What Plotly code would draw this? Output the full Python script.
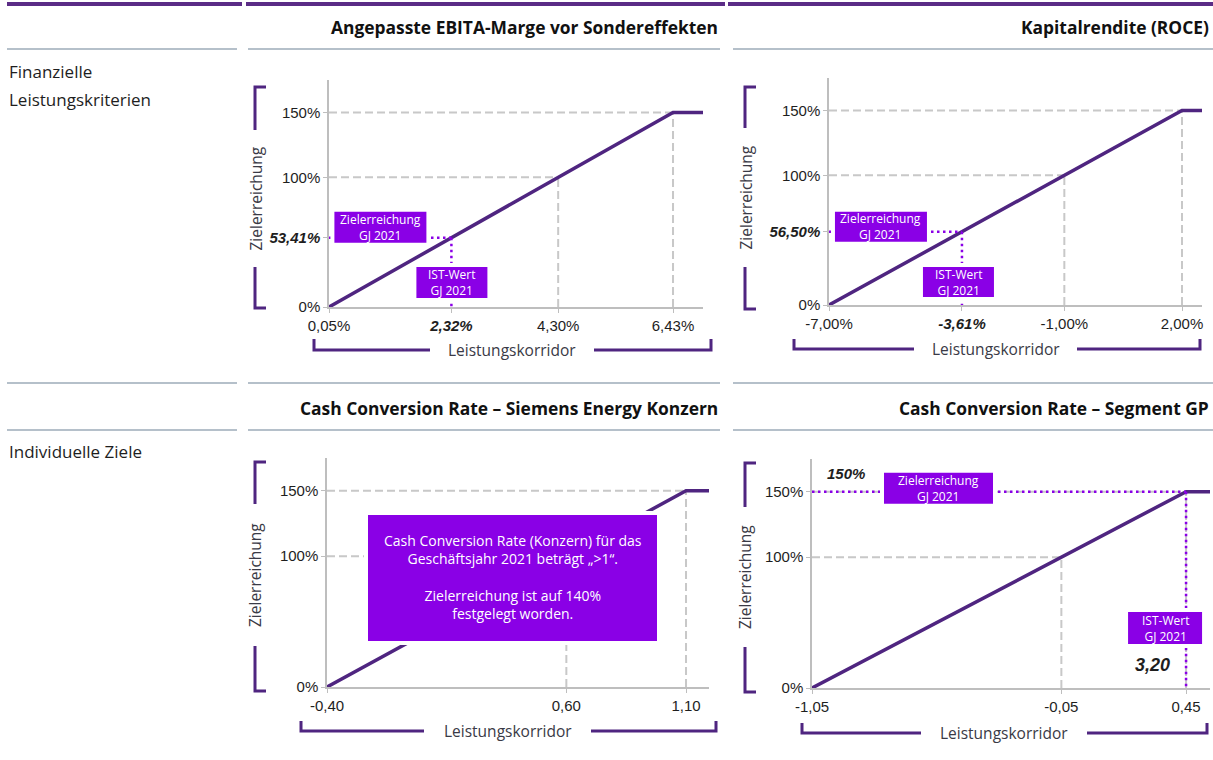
import plotly.graph_objects as go

W, H = 1213, 760

# ---------------- data ----------------
titles = ["Angepasste EBITA-Marge vor Sondereffekten", "Kapitalrendite (ROCE)",
          "Cash Conversion Rate – Siemens Energy Konzern", "Cash Conversion Rate – Segment GP"]
row_labels = [["Finanzielle", "Leistungskriterien"], ["Individuelle Ziele"]]

# corridor points: threshold (0 %), target (100 %), cap (150 %)
corr_x = [[0.05, 4.30, 6.43], [-7.00, -1.00, 2.00], [-0.40, 0.60, 1.10], [-1.05, -0.05, 0.45]]
corr_y = [0, 100, 150]
x_tick_text = [["0,05%", "4,30%", "6,43%"], ["-7,00%", "-1,00%", "2,00%"],
               ["-0,40", "0,60", "1,10"], ["-1,05", "-0,05", "0,45"]]
y_tick_text = ["0%", "100%", "150%"]

actual_x = [2.32, -3.61, None, 0.45]
actual_x_text = ["2,32%", "-3,61%", None, "3,20"]
actual_y = [53.41, 56.50, None, 150]
actual_y_text = ["53,41%", "56,50%", None, "150%"]

note_lines = ["Cash Conversion Rate (Konzern) für das", "Geschäftsjahr 2021 beträgt „>1“.", "",
              "Zielerreichung ist auf 140%", "festgelegt worden."]
box_ziel = ["Zielerreichung", "GJ 2021"]
box_ist = ["IST-Wert", "GJ 2021"]
y_axis_label = "Zielerreichung"
x_axis_label = "Leistungskorridor"

# ---------------- styling / layout ----------------
PURPLE = "#4F2580"
BAND = "#5B2C86"
VIOLET = "#8A00E6"
GREY_DASH = "#C8C8C8"
AXIS_GREY = "#BEBEBE"
SEP = "#9DABB8"
TXT = "#1E1E1E"
LBL = "#3A3A46"
ARIAL = "Liberation Sans, Arial"
TICKFONT = dict(family=ARIAL, size=15, color=TXT)
SANS = "Open Sans, Noto Sans"

# plotting areas in px: left, top, right, bottom
areas = [(329, 80, 703, 307), (829, 78, 1202, 305), (327, 458, 709, 687), (812, 459, 1210, 688)]
x_ranges = [[0.05, 6.986], [-7.0, 2.51], [-0.40, 1.196], [-1.05, 0.546]]
y_range = [0, 175]


def px(x):
    return x / W


def py(y):
    return 1 - y / H


fig = go.Figure()
shapes = []
annotations = []


def label_box(xref, yref, xa, ya, dx, dy, w, h, lines, size=12):
    """Violet box centred dx/dy pixels away from data point (xa, ya); white halo around it."""
    for pad, col in [(4, "white"), (0, VIOLET)]:
        shapes.append(dict(type="rect", xref=xref, yref=yref, layer="above",
                           xsizemode="pixel", ysizemode="pixel", xanchor=xa, yanchor=ya,
                           x0=dx - w / 2 - pad, x1=dx + w / 2 + pad,
                           y0=dy - h / 2 - pad, y1=dy + h / 2 + pad,
                           fillcolor=col, line=dict(width=0)))
    annotations.append(dict(x=xa, y=ya, xref=xref, yref=yref, text="<br>".join(lines), showarrow=False,
                            xanchor="center", yanchor="middle", xshift=dx, yshift=dy,
                            font=dict(family=SANS, size=size, color="white")))


for i in range(4):
    l, t, r, b = areas[i]
    xa = "xaxis" if i == 0 else f"xaxis{i+1}"
    ya = "yaxis" if i == 0 else f"yaxis{i+1}"
    xr = "x" if i == 0 else f"x{i+1}"
    yr = "y" if i == 0 else f"y{i+1}"
    x0, x100, x150 = corr_x[i]
    xmax = x_ranges[i][1]

    tv_x = list(corr_x[i]); tt_x = list(x_tick_text[i])
    tv_y = list(corr_y); tt_y = list(y_tick_text)
    if i in (0, 1):
        tv_x.append(actual_x[i]); tt_x.append(f"<b><i>{actual_x_text[i]}</i></b>")
        tv_y.append(actual_y[i]); tt_y.append(f"<b><i>{actual_y_text[i]}</i></b>")

    fig.update_layout({
        xa: dict(domain=[px(l), px(r)], range=x_ranges[i], anchor=yr, showgrid=False, zeroline=False,
                 showline=True, linecolor=AXIS_GREY, linewidth=2, ticks="outside", ticklen=4,
                 tickcolor=AXIS_GREY, tickvals=tv_x, ticktext=tt_x, tickfont=TICKFONT, fixedrange=True),
        ya: dict(domain=[py(b), py(t)], range=y_range, anchor=xr, showgrid=False, zeroline=False,
                 showline=True, linecolor=AXIS_GREY, linewidth=1.5, ticks="outside", ticklen=4,
                 tickcolor=AXIS_GREY, tickvals=tv_y, ticktext=tt_y, tickfont=TICKFONT, fixedrange=True),
    })

    dash = dict(color=GREY_DASH, width=2, dash="8px,4px")
    for xs, ys in [([x0, x150], [150, 150]), ([x0, x100], [100, 100]),
                   ([x100, x100], [0, 100]), ([x150, x150], [0, 150])]:
        fig.add_trace(go.Scatter(x=xs, y=ys, xaxis=xr, yaxis=yr, mode="lines", line=dash,
                                 hoverinfo="skip", showlegend=False))

    # performance curve
    fig.add_trace(go.Scatter(x=corr_x[i] + [xmax], y=corr_y + [150], xaxis=xr, yaxis=yr, mode="lines",
                             line=dict(color=PURPLE, width=3.5), cliponaxis=False,
                             hoverinfo="skip", showlegend=False))

    if actual_x[i] is not None:
        dot = dict(color=VIOLET, width=2.5, dash="2.5px,3.5px")
        fig.add_trace(go.Scatter(x=[x0, actual_x[i]], y=[actual_y[i], actual_y[i]], xaxis=xr, yaxis=yr,
                                 mode="lines", line=dot, hoverinfo="skip", showlegend=False))
        fig.add_trace(go.Scatter(x=[actual_x[i], actual_x[i]], y=[actual_y[i], 0], xaxis=xr, yaxis=yr,
                                 mode="lines", line=dot, hoverinfo="skip", showlegend=False))

    # brackets
    ybr = [(255, 87, 308, 266, 130, 267), (745, 87, 309, 756, 128, 267),
           (255, 462, 691, 266, 504, 646), (745, 463, 692, 756, 507, 647)][i]
    xbr = [(350, 314, 711, 339, 430, 594), (349, 794, 1200, 339, 914, 1077),
           (731, 301, 716, 721, 424, 591), (733, 802, 1207, 723, 921, 1087)][i]
    bx, btop, bbot, btick, gtop, gbot = ybr
    shapes.append(dict(type="path", xref="paper", yref="paper",
                       path=f"M{px(btick)},{py(btop)} L{px(bx)},{py(btop)} L{px(bx)},{py(gtop)}",
                       line=dict(color=PURPLE, width=3)))
    shapes.append(dict(type="path", xref="paper", yref="paper",
                       path=f"M{px(bx)},{py(gbot)} L{px(bx)},{py(bbot)} L{px(btick)},{py(bbot)}",
                       line=dict(color=PURPLE, width=3)))
    annotations.append(dict(x=px(bx), y=py((gtop + gbot) / 2), xref="paper", yref="paper",
                            xanchor="center", yanchor="middle",
                            text=y_axis_label, textangle=-90, showarrow=False,
                            font=dict(family=SANS, size=15.5, color=LBL)))
    by, bl, brr, btk, gl, gr = xbr
    shapes.append(dict(type="path", xref="paper", yref="paper",
                       path=f"M{px(bl)},{py(btk)} L{px(bl)},{py(by)} L{px(gl)},{py(by)}",
                       line=dict(color=PURPLE, width=3)))
    shapes.append(dict(type="path", xref="paper", yref="paper",
                       path=f"M{px(gr)},{py(by)} L{px(brr)},{py(by)} L{px(brr)},{py(btk)}",
                       line=dict(color=PURPLE, width=3)))
    annotations.append(dict(x=px((gl + gr) / 2), y=py(by), xref="paper", yref="paper",
                            xanchor="center", yanchor="middle",
                            text=x_axis_label, showarrow=False,
                            font=dict(family=SANS, size=15.5, color=LBL)))

    # titles
    title_right = 720 if i % 2 == 0 else 1211
    title_y = 27 if i < 2 else 408
    annotations.append(dict(x=px(title_right), y=py(title_y), xref="paper", yref="paper",
                            xanchor="right", yanchor="middle", showarrow=False,
                            text=f"<b>{titles[i]}</b>", font=dict(family=SANS, size=17.4, color="#111")))

# chart 1 boxes
label_box("x", "y", actual_x[0], actual_y[0], -71, 10.5, 92, 31, box_ziel)
label_box("x", "y", actual_x[0], 0, 0.5, 24.5, 71, 31, box_ist)
# chart 2 boxes
label_box("x2", "y2", actual_x[1], actual_y[1], -81, 5, 92, 30, box_ziel)
label_box("x2", "y2", actual_x[1], 0, -3.5, 23, 71, 30, box_ist)
# chart 4 boxes
label_box("x4", "y4", corr_x[3][0], actual_y[3], 126.5, 3.5, 109, 31, box_ziel)
label_box("x4", "y4", actual_x[3], 0, -21, 60, 74, 32, box_ist)
annotations.append(dict(x=corr_x[3][0], y=actual_y[3], xref="x4", yref="y4", xanchor="left", yanchor="middle",
                        text=f"<b><i>{actual_y_text[3]}</i></b>", showarrow=False, xshift=13, yshift=18,
                        font=dict(family=ARIAL, size=15, color=TXT)))
annotations.append(dict(x=actual_x[3], y=0, xref="x4", yref="y4", xanchor="right", yanchor="middle",
                        text=f"<b><i>{actual_x_text[3]}</i></b>", showarrow=False, xshift=-14, yshift=23,
                        font=dict(family=ARIAL, size=18, color=TXT)))

# chart 3 note box
for pad, col in [(4, "white"), (0, VIOLET)]:
    shapes.append(dict(type="rect", xref="paper", yref="paper", layer="above",
                       x0=px(368 - pad), x1=px(657 + pad), y0=py(641 + pad), y1=py(515 - pad),
                       fillcolor=col, line=dict(width=0)))
annotations.append(dict(x=px(512.5), y=py(577), xref="paper", yref="paper", text="<br>".join(note_lines),
                        xanchor="center", yanchor="middle", showarrow=False,
                        font=dict(family=SANS, size=14, color="white")))

# row labels
for txt, yy in [(row_labels[0][0], 72), (row_labels[0][1], 100), (row_labels[1][0], 452)]:
    annotations.append(dict(x=px(7), y=py(yy), xref="paper", yref="paper", xanchor="left", yanchor="middle",
                            text=txt, showarrow=False, font=dict(family=SANS, size=17, color=TXT)))

# top band and separator lines
for a, c in [(7, 242), (246, 725), (728, 1213)]:
    shapes.append(dict(type="line", xref="paper", yref="paper", x0=px(a), x1=px(c), y0=py(4), y1=py(4),
                       line=dict(color=BAND, width=4)))
for yy in (49, 383, 430):
    for a, c in [(7, 237), (248, 720), (733, 1213)]:
        shapes.append(dict(type="line", xref="paper", yref="paper", x0=px(a), x1=px(c), y0=py(yy), y1=py(yy),
                           line=dict(color=SEP, width=1.5)))

fig.update_layout(width=W, height=H, margin=dict(l=0, r=0, t=0, b=0, autoexpand=False),
                  paper_bgcolor="white", plot_bgcolor="white", shapes=shapes, annotations=annotations,
                  showlegend=False)

fig.write_html("out.html", config={"displayModeBar": False})
